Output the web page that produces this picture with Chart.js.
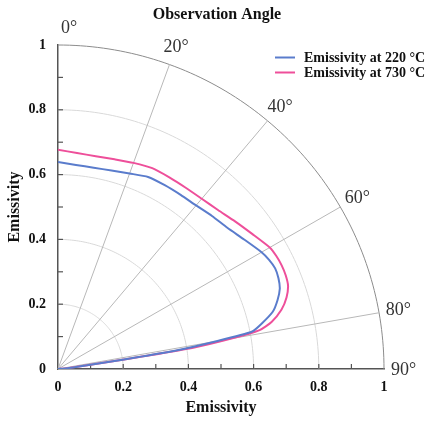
<!DOCTYPE html>
<html>
<head>
<meta charset="utf-8">
<script src="https://cdn.jsdelivr.net/npm/chart.js@4.4.1/dist/chart.umd.min.js"></script>
<style>
  html, body { margin: 0; padding: 0; background: #fff; }
  #wrap { width: 428px; height: 421px; }
</style>
</head>
<body>
<div id="wrap"><canvas id="chart"></canvas></div>
<script>
// observation angle (deg from the surface normal) and emissivity
const angles  = [0, 5, 10, 15, 20, 25, 30, 35, 40, 45, 50, 55, 60, 62.5, 65, 67.5, 70, 72.5, 75, 77.5, 79, 80, 81, 81.5, 82, 83, 85, 90];
const emis220 = [0.639, 0.632, 0.631, 0.634, 0.642, 0.654, 0.655, 0.656, 0.659, 0.668, 0.678, 0.697, 0.721, 0.730, 0.735, 0.732, 0.724, 0.706, 0.682, 0.638, 0.607, 0.49, 0.37, 0.25, 0.15, 0.07, 0.03, 0];
const emis730 = [0.677, 0.669, 0.667, 0.670, 0.677, 0.684, 0.683, 0.683, 0.686, 0.694, 0.709, 0.727, 0.750, 0.755, 0.757, 0.756, 0.751, 0.735, 0.710, 0.671, 0.630, 0.54, 0.42, 0.27, 0.16, 0.08, 0.03, 0];
const seriesLabels = ["Emissivity at 220 °C", "Emissivity at 730 °C"];
const chartTitle = "Observation Angle";

const gridRadii = [0.2, 0.4, 0.6, 0.8, 1];
const rayAngles = [20, 40, 60, 80];
const angleLabels = [0, 20, 40, 60, 80, 90];
const minorTicks = [0.1, 0.2, 0.3, 0.4, 0.5, 0.6, 0.7, 0.8, 0.9];

const SERIF = "'Liberation Serif', 'DejaVu Serif', serif";
const colors = ["#5a7ccc", "#ee4f9a"];

// polar (angle from vertical, radius) -> x/y in emissivity units
const toXY = (deg, r) => ({
  x: r * Math.sin(deg * Math.PI / 180),
  y: r * Math.cos(deg * Math.PI / 180)
});

const polarGrid = {
  id: "polarGrid",
  beforeDatasetsDraw(chart) {
    const { ctx, scales: { x, y } } = chart;
    const px = (p) => [x.getPixelForValue(p.x), y.getPixelForValue(p.y)];
    ctx.save();

    // arcs of constant emissivity
    gridRadii.forEach((r) => {
      ctx.beginPath();
      for (let a = 0; a <= 90; a += 1) {
        const [X, Y] = px(toXY(a, r));
        if (a === 0) ctx.moveTo(X, Y); else ctx.lineTo(X, Y);
      }
      ctx.strokeStyle = r === 1 ? "#8c8c8c" : "#d9d9d9";
      ctx.lineWidth = 1;
      ctx.stroke();
    });

    // angle rays
    rayAngles.forEach((a) => {
      const [x0, y0] = px({ x: 0, y: 0 });
      const [x1, y1] = px(toXY(a, 1));
      ctx.beginPath();
      ctx.moveTo(x0, y0);
      ctx.lineTo(x1, y1);
      ctx.strokeStyle = "#b8b8b8";
      ctx.lineWidth = 1;
      ctx.stroke();
    });

    // small ticks pointing into the plot
    ctx.strokeStyle = "#555";
    ctx.lineWidth = 1.2;
    const left = chart.chartArea.left, bottom = chart.chartArea.bottom;
    minorTicks.forEach((v) => {
      const ty = y.getPixelForValue(v);
      ctx.beginPath();
      ctx.moveTo(left, ty);
      ctx.lineTo(left + 5, ty);
      ctx.stroke();
      const tx = x.getPixelForValue(v);
      ctx.beginPath();
      ctx.moveTo(tx, bottom);
      ctx.lineTo(tx, bottom - 5);
      ctx.stroke();
    });
    ctx.restore();
  },
  afterDraw(chart) {
    const { ctx, scales: { x, y } } = chart;
    ctx.save();

    // title over the whole figure
    ctx.font = "bold 16px " + SERIF;
    ctx.fillStyle = "#111";
    ctx.textAlign = "center";
    ctx.textBaseline = "middle";
    ctx.fillText(chartTitle, 217, 15);

    // angle labels around the outer arc
    ctx.font = "18px " + SERIF;
    ctx.fillStyle = "#333";
    angleLabels.forEach((a) => {
      const p = toXY(a, 1.06);
      let X = x.getPixelForValue(p.x);
      const Y = y.getPixelForValue(p.y) + 1;
      if (a === 0) {
        ctx.textAlign = "left";
        X += 3;
      } else {
        ctx.textAlign = "center";
      }
      ctx.fillText(a + "°", X, a === 0 ? Y + 2 : Y);
    });

    // legend
    ctx.font = "bold 14px " + SERIF;
    ctx.textAlign = "left";
    ctx.fillStyle = "#111";
    seriesLabels.forEach((label, i) => {
      const ly = 57.5 + i * 15;
      ctx.beginPath();
      ctx.moveTo(275, ly);
      ctx.lineTo(295, ly);
      ctx.strokeStyle = colors[i];
      ctx.lineWidth = 2;
      ctx.stroke();
      ctx.fillText(label, 304, ly + 1);
    });
    ctx.restore();
  }
};

const tickLabel = (v) => {
  const k = Math.round(v * 10);
  return k % 2 === 0 ? String(k / 10) : "";
};

new Chart(document.getElementById("chart"), {
  type: "scatter",
  data: {
    datasets: [
      {
        label: seriesLabels[0],
        data: angles.map((a, i) => toXY(a, emis220[i])),
        borderColor: colors[0],
        borderWidth: 2,
        showLine: true,
        pointRadius: 0,
        tension: 0.2
      },
      {
        label: seriesLabels[1],
        data: angles.map((a, i) => toXY(a, emis730[i])),
        borderColor: colors[1],
        borderWidth: 2,
        showLine: true,
        pointRadius: 0,
        tension: 0.2
      }
    ]
  },
  options: {
    responsive: true,
    maintainAspectRatio: false,
    animation: false,
    layout: { padding: { left: 0, top: 45, right: 44, bottom: 0 } },
    plugins: {
      legend: { display: false },
      tooltip: { enabled: false },
      title: { display: false }
    },
    scales: {
      x: {
        type: "linear",
        min: 0,
        max: 1,
        afterFit: (s) => { s.height = 52; },
        ticks: {
          stepSize: 0.1,
          autoSkip: false,
          maxRotation: 0,
          padding: 10,
          color: "#111",
          font: { family: SERIF, size: 14, weight: "bold" },
          callback: tickLabel
        },
        grid: { display: false, drawTicks: false },
        border: { display: true, color: "#555", width: 1.5 },
        title: {
          display: true,
          text: "Emissivity",
          color: "#111",
          font: { family: SERIF, size: 16, weight: "bold" },
          padding: { top: 4, bottom: 4 }
        }
      },
      y: {
        type: "linear",
        min: 0,
        max: 1,
        afterFit: (s) => { s.width = 58; },
        ticks: {
          stepSize: 0.1,
          autoSkip: false,
          padding: 12,
          color: "#111",
          font: { family: SERIF, size: 14, weight: "bold" },
          callback: tickLabel
        },
        grid: { display: false, drawTicks: false },
        border: { display: true, color: "#555", width: 1.5 },
        title: {
          display: true,
          text: "Emissivity",
          color: "#111",
          font: { family: SERIF, size: 16, weight: "bold" },
          padding: { top: 5, bottom: 4 }
        }
      }
    }
  },
  plugins: [polarGrid]
});
</script>
</body>
</html>
